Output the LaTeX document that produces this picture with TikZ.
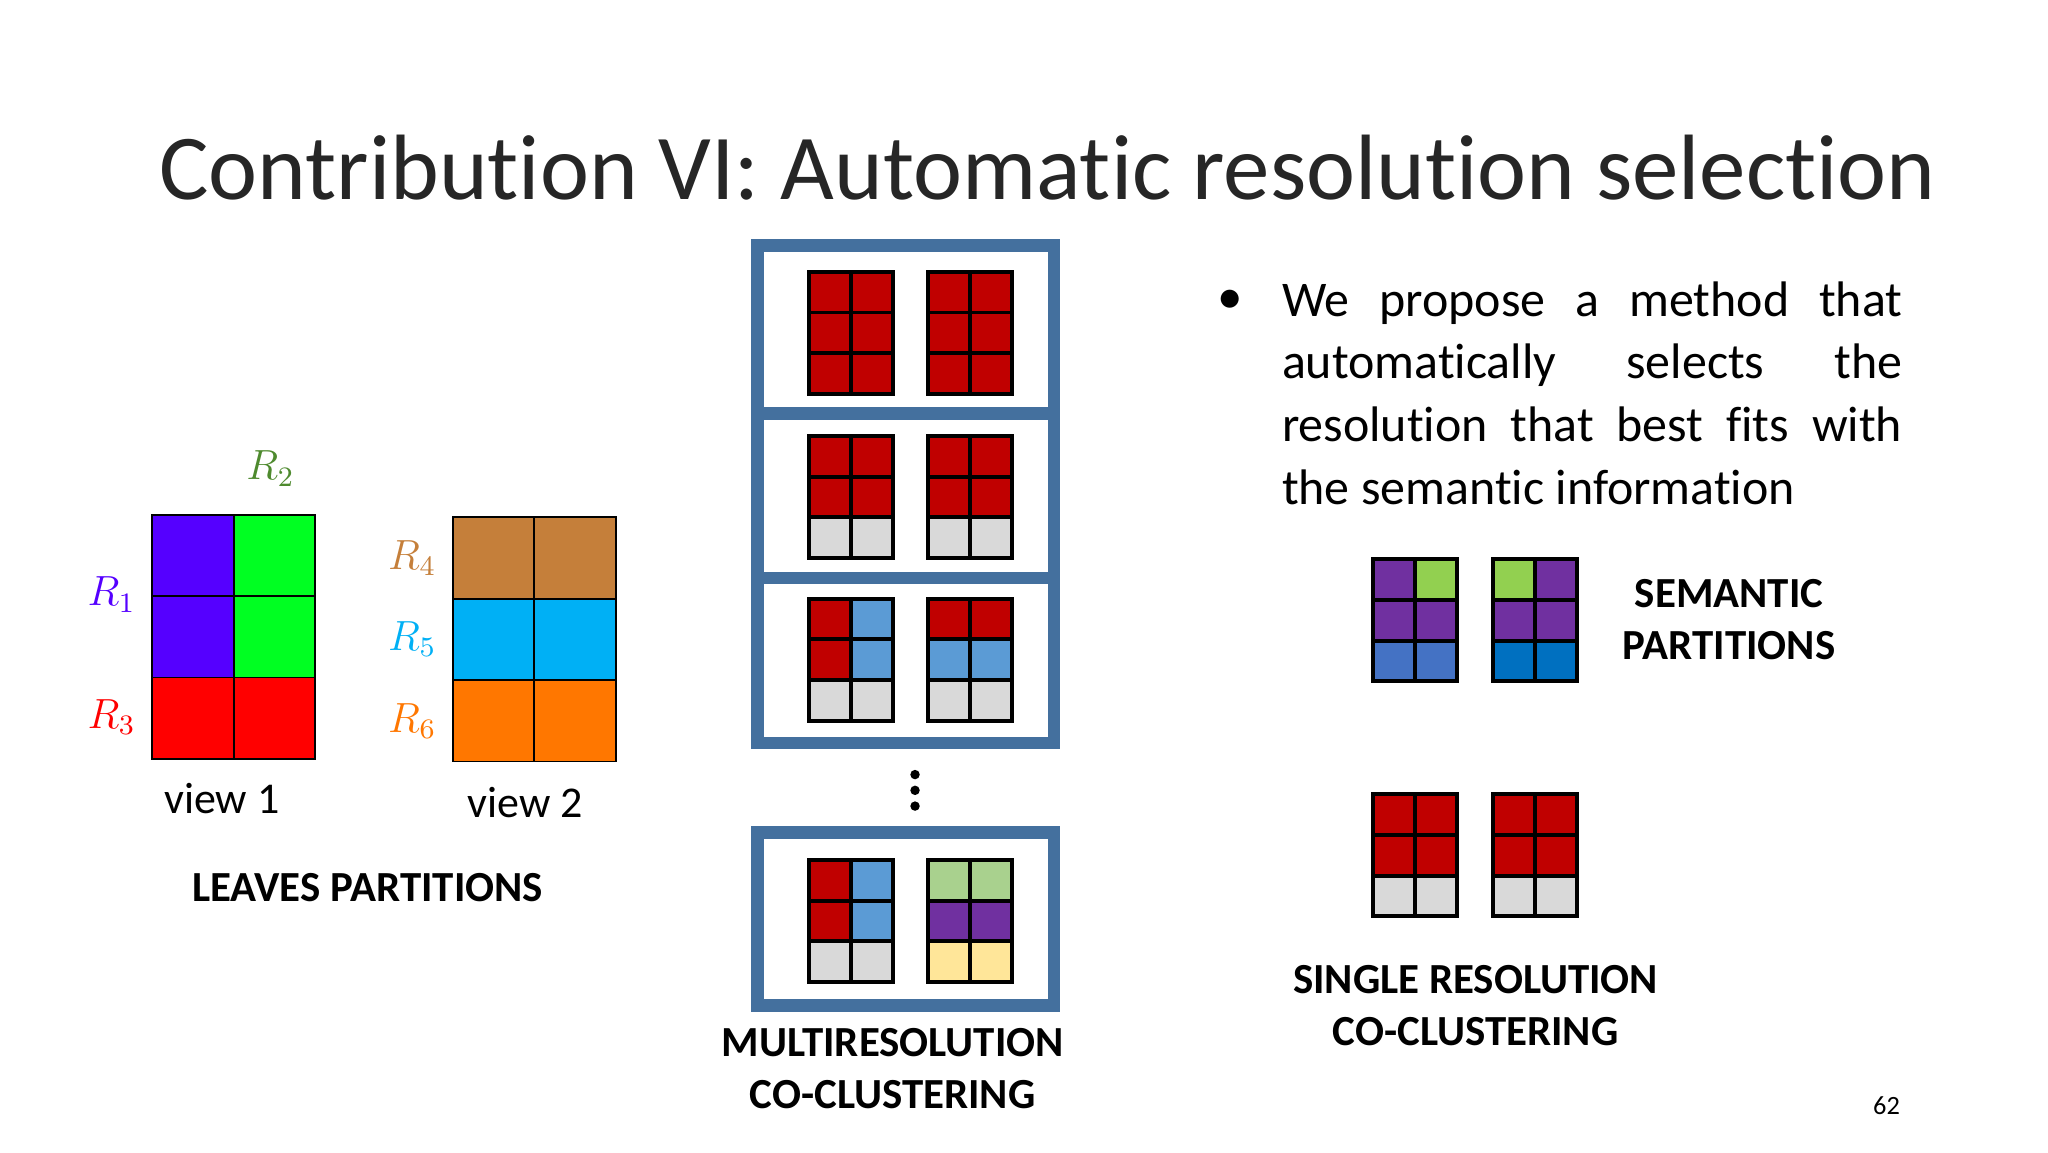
\documentclass[tikz,border=0pt]{standalone}
\usepackage{fontspec}
\setmainfont{Carlito}[Ligatures={NoCommon}]
\begin{document}
\definecolor{dred}{HTML}{C00000}
\definecolor{lgrey}{HTML}{D9D9D9}
\definecolor{lblue}{HTML}{5B9BD5}
\definecolor{lgreen}{HTML}{A9D18E}
\definecolor{purp}{HTML}{7030A0}
\definecolor{lyel}{HTML}{FFE699}
\definecolor{sgreen}{HTML}{92D050}
\definecolor{sblue}{HTML}{4472C4}
\definecolor{sblue2}{HTML}{0070C0}
\definecolor{steel}{HTML}{44709E}
\definecolor{cviol}{HTML}{5500FF}
\definecolor{cgreen}{HTML}{00FF22}
\definecolor{cred}{HTML}{FF0000}
\definecolor{cbrown}{HTML}{C57F3A}
\definecolor{ccyan}{HTML}{00B0F5}
\definecolor{corange}{HTML}{FF7700}
\definecolor{cdgreen}{HTML}{4E8A2E}
\newcommand\mygrid[8]{%
 \fill[#3] (#1,#2) rectangle ++(32,31);
 \fill[#4] (#1+32,#2) rectangle ++(32,31);
 \fill[#5] (#1,#2+31) rectangle ++(32,31);
 \fill[#6] (#1+32,#2+31) rectangle ++(32,31);
 \fill[#7] (#1,#2+62) rectangle ++(32,31);
 \fill[#8] (#1+32,#2+62) rectangle ++(32,31);
 \draw[line width=1.1pt] (#1,#2) rectangle ++(64,93);
 \draw[line width=1.1pt] (#1+32,#2) -- ++(0,93);
 \draw[line width=1.1pt] (#1,#2+31) -- ++(64,0) (#1,#2+62) -- ++(64,0);}
\begin{tikzpicture}[x=0.013128cm,y=-0.013128cm,
  lab/.style={font=\fontsize{12.2pt}{14pt}\selectfont\bfseries,align=center},
  rl/.style={font=\fontsize{11.5pt}{14pt}\selectfont}]
\useasboundingbox[fill=white] (0,0) rectangle (1560,877.5);
\node[anchor=base,font=\fontsize{26.4pt}{32pt}\selectfont,text=black!85] (title) at (798,152) {Contribution VI: Automatic resolution selection};
% view 1
\fill[cviol] (116,392) rectangle (178,516);
\fill[cgreen] (178,392) rectangle (240,516);
\fill[cred] (116,516) rectangle (240,578);
\draw[line width=0.5pt] (116,392) rectangle (240,578) (178,392)--(178,578) (116,454)--(240,454) (116,516)--(240,516);
% view 2
\fill[cbrown] (345,394) rectangle (469,456);
\fill[ccyan] (345,456) rectangle (469,518);
\fill[corange] (345,518) rectangle (469,580);
\draw[line width=0.5pt] (345,394) rectangle (469,580) (407,394)--(407,580) (345,456)--(469,456) (345,518)--(469,518);
\node[rl,text=cdgreen] (r2) at (206,357) {$R_2$};
\node[rl,text=cviol] (r1) at (85,453) {$R_1$};
\node[rl,text=cred] (r3) at (85,546) {$R_3$};
\node[rl,text=cbrown] (r4) at (314,425) {$R_4$};
\node[rl,text=ccyan] (r5) at (314,487) {$R_5$};
\node[rl,text=corange] (r6) at (314,549) {$R_6$};
\node[font=\fontsize{12.5pt}{15pt}\selectfont] (v1) at (169,608) {view 1};
\node[font=\fontsize{12.5pt}{15pt}\selectfont] (v2) at (400,611) {view 2};
\node[lab] (leaves) at (280,676) {LEAVES PARTITIONS};
% middle
\draw[steel,line width=3.5pt] (577,187) rectangle (803,566) (577,315)--(803,315) (577,440)--(803,440);
\draw[steel,line width=3.5pt] (577,634) rectangle (803,766);
\mygrid{616}{207}{dred}{dred}{dred}{dred}{dred}{dred}
\mygrid{707}{207}{dred}{dred}{dred}{dred}{dred}{dred}
\mygrid{616}{332}{dred}{dred}{dred}{dred}{lgrey}{lgrey}
\mygrid{707}{332}{dred}{dred}{dred}{dred}{lgrey}{lgrey}
\mygrid{616}{456}{dred}{lblue}{dred}{lblue}{lgrey}{lgrey}
\mygrid{707}{456}{dred}{dred}{lblue}{lblue}{lgrey}{lgrey}
\mygrid{616}{655}{dred}{lblue}{dred}{lblue}{lgrey}{lgrey}
\mygrid{707}{655}{lgreen}{lgreen}{purp}{purp}{lyel}{lyel}
\foreach \yy in {590,602,614} \fill (697,\yy) circle (3.6);
\node[lab] (multi) at (680,814) {MULTIRESOLUTION\\[0.6pt]CO-CLUSTERING};
% right
\node[font=\fontsize{14.5pt}{17pt}\selectfont] (bul) at (937,230) {•};
\node[anchor=north west,inner sep=0pt,text width=6.2cm,align=justify,font=\fontsize{14.2pt}{17.8pt}\selectfont] (txt) at (976,214) {We propose a method that\linebreak automatically selects the\linebreak resolution that best fits with\linebreak the semantic information};
\mygrid{1046}{426}{purp}{sgreen}{purp}{purp}{sblue}{sblue}
\mygrid{1137}{426}{sgreen}{purp}{purp}{purp}{sblue2}{sblue2}
\node[lab] (sem) at (1317,472) {SEMANTIC\\[0.6pt]PARTITIONS};
\mygrid{1046}{605}{dred}{dred}{dred}{dred}{lgrey}{lgrey}
\mygrid{1137}{605}{dred}{dred}{dred}{dred}{lgrey}{lgrey}
\node[lab] (single) at (1124,766) {SINGLE RESOLUTION\\[0.6pt]CO-CLUSTERING};
\node[font=\fontsize{7.5pt}{10pt}\selectfont] (pg) at (1437,842) {62};
\end{tikzpicture}
\end{document}
